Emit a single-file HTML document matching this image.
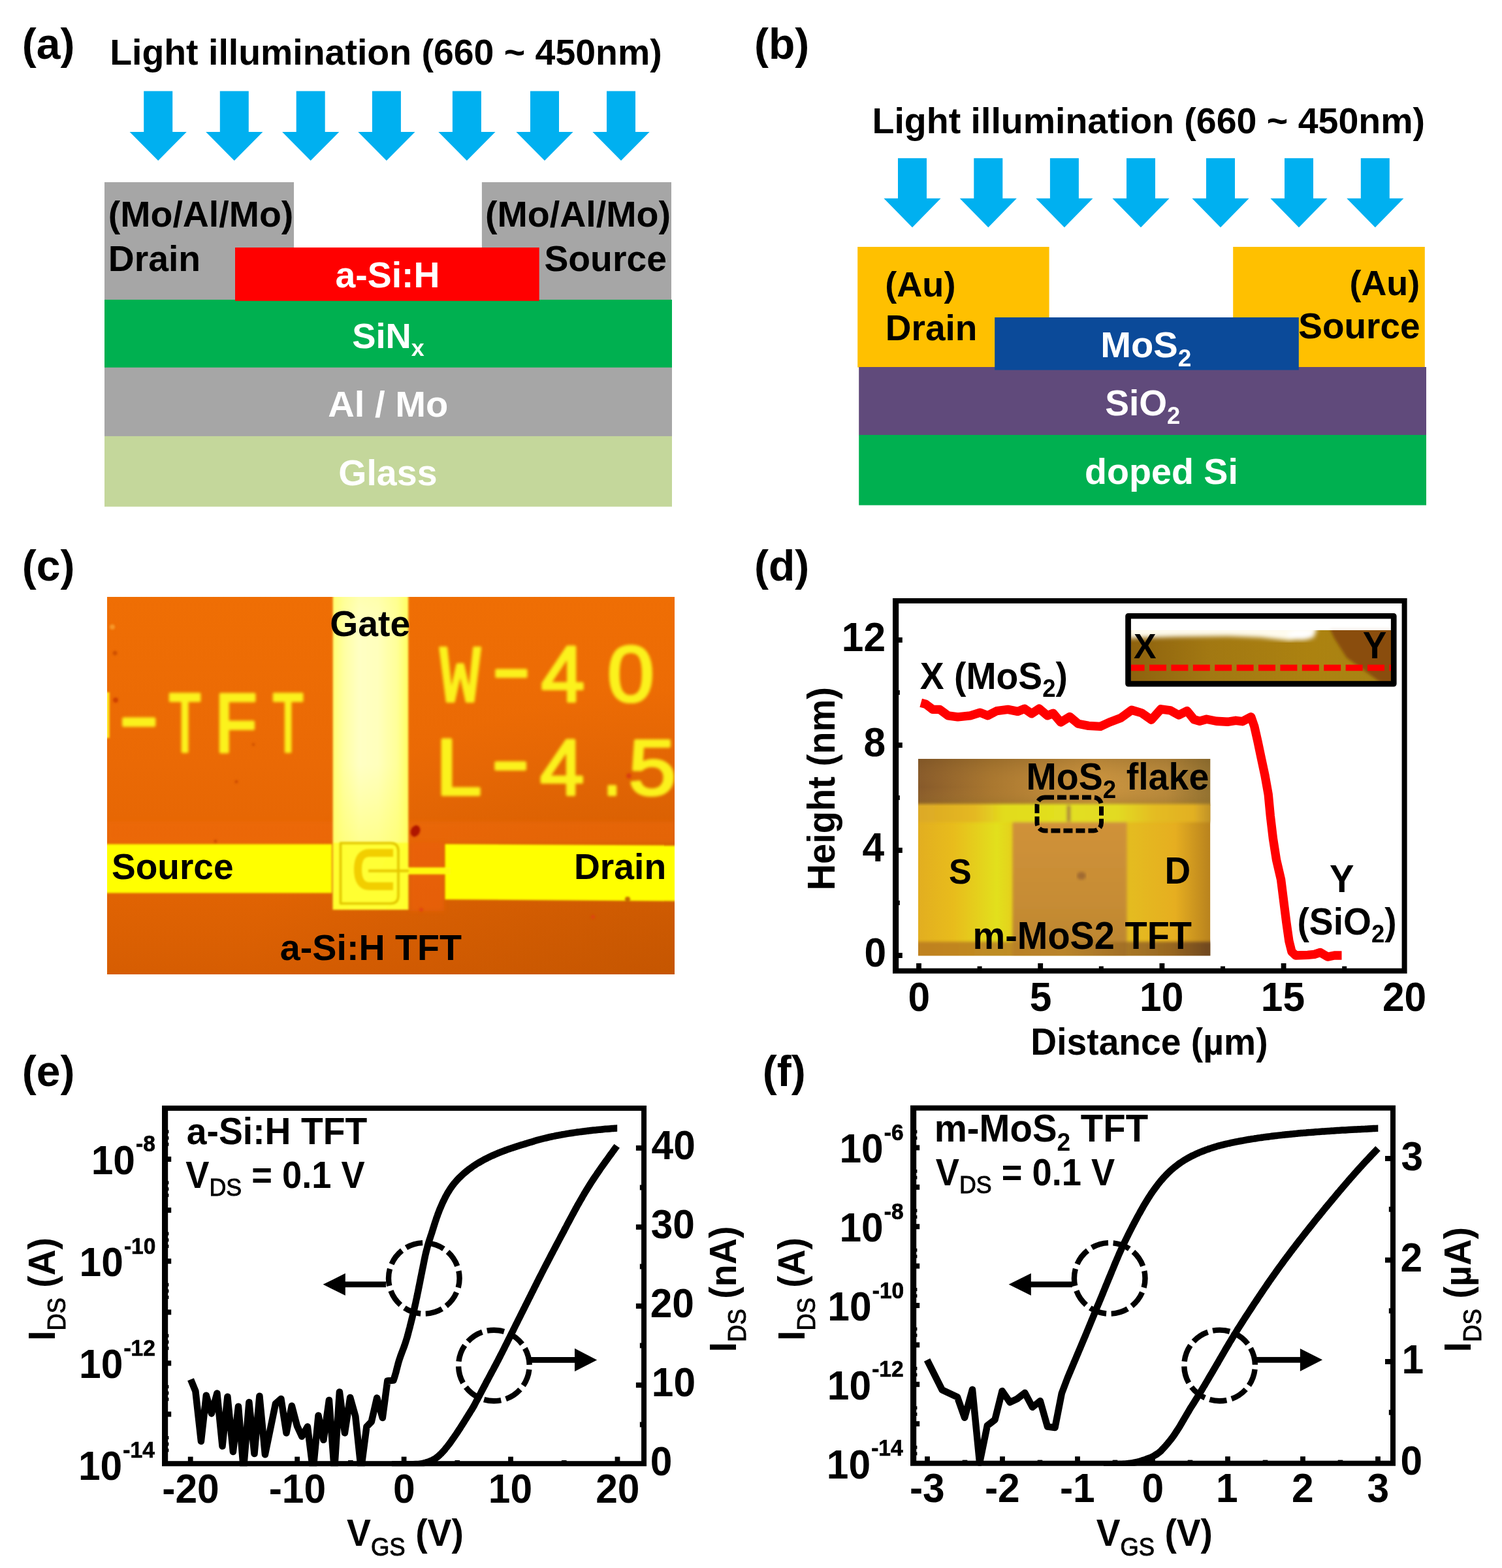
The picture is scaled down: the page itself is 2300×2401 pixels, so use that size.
<!DOCTYPE html>
<html lang="en">
<head>
<meta charset="utf-8">
<title>Figure: a-Si:H TFT and m-MoS2 TFT</title>
<style>
html,body{margin:0;padding:0;background:#fff;width:2300px;height:2401px;overflow:hidden;}
svg{display:block;}
text{font-family:"Liberation Sans", Arial, Helvetica, sans-serif;font-weight:bold;white-space:pre;}
</style>
</head>
<body>
<svg width="2300" height="2401" viewBox="0 0 2300 2401">
<rect x="0" y="0" width="2300" height="2401" fill="#fff"/>
<text x="33.71" y="90.30" font-size="66.00" fill="#000" >(a)</text>
<text x="1154.91" y="90.30" font-size="66.00" fill="#000" >(b)</text>
<text x="33.71" y="889.30" font-size="66.00" fill="#000" >(c)</text>
<text x="1154.91" y="889.30" font-size="66.00" fill="#000" >(d)</text>
<text x="33.71" y="1663.00" font-size="66.00" fill="#000" >(e)</text>
<text x="1167.71" y="1663.00" font-size="66.00" fill="#000" >(f)</text>
<g id="panel-a">
<text x="168.14" y="99.00" font-size="55.44" fill="#000" >Light illumination (660 ~ 450nm)</text>
<polygon points="220.2,139.6 264.2,139.6 264.2,202.0 285.8,202.0 242.2,246.0 198.6,202.0 220.2,202.0" fill="#00B0F0"/>
<polygon points="336.8,139.6 380.8,139.6 380.8,202.0 402.4,202.0 358.8,246.0 315.2,202.0 336.8,202.0" fill="#00B0F0"/>
<polygon points="453.7,139.6 497.7,139.6 497.7,202.0 519.3,202.0 475.7,246.0 432.1,202.0 453.7,202.0" fill="#00B0F0"/>
<polygon points="569.9,139.6 613.9,139.6 613.9,202.0 635.5,202.0 591.9,246.0 548.3,202.0 569.9,202.0" fill="#00B0F0"/>
<polygon points="692.9,139.6 736.9,139.6 736.9,202.0 758.5,202.0 714.9,246.0 671.3,202.0 692.9,202.0" fill="#00B0F0"/>
<polygon points="812.0,139.6 856.0,139.6 856.0,202.0 877.6,202.0 834.0,246.0 790.4,202.0 812.0,202.0" fill="#00B0F0"/>
<polygon points="929.0,139.6 973.0,139.6 973.0,202.0 994.6,202.0 951.0,246.0 907.4,202.0 929.0,202.0" fill="#00B0F0"/>
<rect x="160.00" y="279.00" width="290.00" height="180.50" fill="#A6A6A6" />
<rect x="737.90" y="279.00" width="290.10" height="180.50" fill="#A6A6A6" />
<rect x="160.00" y="458.90" width="869.00" height="104.10" fill="#00B050" />
<rect x="160.00" y="562.70" width="869.00" height="105.50" fill="#A6A6A6" />
<rect x="160.00" y="667.90" width="869.00" height="107.90" fill="#C4D79B" />
<rect x="360.00" y="379.00" width="465.70" height="81.80" fill="#FF0000" />
<text x="165.80" y="347.30" font-size="55.49" fill="#000" >(Mo/Al/Mo)</text>
<text x="165.84" y="414.50" font-size="55.29" fill="#000" >Drain</text>
<text x="742.89" y="347.30" font-size="55.61" fill="#000" >(Mo/Al/Mo)</text>
<text x="833.44" y="414.50" font-size="55.32" fill="#000" >Source</text>
<text x="513.54" y="439.70" font-size="55.35" fill="#fff" >a-Si:H</text>
<text x="539.15" y="533.40" font-size="54.38" fill="#fff"><tspan>SiN</tspan><tspan dy="11.96" font-size="35.89">x</tspan></text>
<text x="502.32" y="637.50" font-size="56.15" fill="#fff" >Al / Mo</text>
<text x="518.26" y="742.60" font-size="55.54" fill="#fff" >Glass</text>
</g>
<g id="panel-b">
<text x="1335.53" y="203.50" font-size="55.51" fill="#000" >Light illumination (660 ~ 450nm)</text>
<polygon points="1375.0,242.2 1419.0,242.2 1419.0,303.8 1440.6,303.8 1397.0,348.2 1353.4,303.8 1375.0,303.8" fill="#00B0F0"/>
<polygon points="1491.3,242.2 1535.3,242.2 1535.3,303.8 1556.9,303.8 1513.3,348.2 1469.7,303.8 1491.3,303.8" fill="#00B0F0"/>
<polygon points="1607.9,242.2 1651.9,242.2 1651.9,303.8 1673.5,303.8 1629.9,348.2 1586.3,303.8 1607.9,303.8" fill="#00B0F0"/>
<polygon points="1725.0,242.2 1769.0,242.2 1769.0,303.8 1790.6,303.8 1747.0,348.2 1703.4,303.8 1725.0,303.8" fill="#00B0F0"/>
<polygon points="1847.0,242.2 1891.0,242.2 1891.0,303.8 1912.6,303.8 1869.0,348.2 1825.4,303.8 1847.0,303.8" fill="#00B0F0"/>
<polygon points="1967.0,242.2 2011.0,242.2 2011.0,303.8 2032.6,303.8 1989.0,348.2 1945.4,303.8 1967.0,303.8" fill="#00B0F0"/>
<polygon points="2083.8,242.2 2127.8,242.2 2127.8,303.8 2149.4,303.8 2105.8,348.2 2062.2,303.8 2083.8,303.8" fill="#00B0F0"/>
<rect x="1313.20" y="378.00" width="293.40" height="184.50" fill="#FFC000" />
<rect x="1888.20" y="378.00" width="293.60" height="184.50" fill="#FFC000" />
<rect x="1315.20" y="562.00" width="868.80" height="104.30" fill="#604A7B" />
<rect x="1315.20" y="666.00" width="868.80" height="107.60" fill="#00B050" />
<rect x="1523.20" y="486.00" width="465.60" height="80.60" fill="#0B4A99" />
<text x="1355.16" y="453.50" font-size="54.17" fill="#000" >(Au)</text>
<text x="1355.86" y="520.60" font-size="55.00" fill="#000" >Drain</text>
<text x="2066.48" y="452.20" font-size="53.86" fill="#000" >(Au)</text>
<text x="1988.24" y="518.30" font-size="54.96" fill="#000" >Source</text>
<text x="1685.19" y="546.80" font-size="56.15" fill="#fff"><tspan>MoS</tspan><tspan dy="14.04" font-size="37.06">2</tspan></text>
<text x="1692.14" y="635.60" font-size="55.11" fill="#fff"><tspan>SiO</tspan><tspan dy="13.78" font-size="36.37">2</tspan></text>
<text x="1661.06" y="741.00" font-size="55.64" fill="#fff" >doped Si</text>
</g>
<g id="panel-c">
<defs>
<linearGradient id="cbg" x1="0" x2="0" y1="0" y2="1"><stop offset="0" stop-color="#EF6E04"/><stop offset="0.45" stop-color="#EA6905"/><stop offset="0.72" stop-color="#E46503"/><stop offset="1" stop-color="#D65D02"/></linearGradient>
<radialGradient id="cshade" cx="1.0" cy="1.0" r="0.75"><stop offset="0" stop-color="#B85000" stop-opacity="0.55"/><stop offset="1" stop-color="#B85000" stop-opacity="0"/></radialGradient>
<linearGradient id="cgate" x1="0" x2="1" y1="0" y2="0"><stop offset="0" stop-color="#FFFF70"/><stop offset="0.14" stop-color="#FFFFA0"/><stop offset="0.35" stop-color="#FFFFC4"/><stop offset="0.6" stop-color="#FFFFBC"/><stop offset="0.85" stop-color="#FFFF98"/><stop offset="1" stop-color="#FFFF60"/></linearGradient>
<linearGradient id="cgatev" x1="0" x2="0" y1="0" y2="1"><stop offset="0" stop-color="#FFFF66" stop-opacity="0.25"/><stop offset="0.12" stop-color="#FFFF66" stop-opacity="0"/><stop offset="0.55" stop-color="#FFFF66" stop-opacity="0"/><stop offset="0.8" stop-color="#FFFF62" stop-opacity="0.55"/><stop offset="1" stop-color="#FFFF50" stop-opacity="0.7"/></linearGradient>
<filter id="cblur" x="-5%" y="-10%" width="110%" height="120%"><feGaussianBlur stdDeviation="1.6"/></filter>
<filter id="cblur2" x="-5%" y="-10%" width="110%" height="120%"><feGaussianBlur stdDeviation="2.2"/></filter>
<filter id="cblur3" x="-20%" y="-20%" width="140%" height="140%"><feGaussianBlur stdDeviation="3"/></filter>
<clipPath id="clip-c"><rect x="164.0" y="914.0" width="869.0" height="578.0"/></clipPath>
</defs>
<g clip-path="url(#clip-c)">
<rect x="164.00" y="914.00" width="869.00" height="578.00" fill="url(#cbg)" />
<rect x="164.00" y="914.00" width="869.00" height="578.00" fill="url(#cshade)" />
<rect x="164.00" y="1258.00" width="869.00" height="32.00" fill="#F36A08" opacity="0.45" filter="url(#cblur3)"/>
<rect x="628.00" y="1290.00" width="52.00" height="105.00" fill="#F0600A" opacity="0.6" filter="url(#cblur3)"/>
<g filter="url(#cblur)">
<rect x="150.00" y="1292.60" width="358.00" height="74.80" fill="#FFFF00" />
<polygon points="681.5,1292.6 1045,1294.6 1045,1379.8 681.5,1377.2" fill="#FFFF00"/>
<rect x="620.00" y="1328.20" width="70.00" height="10.60" fill="#FFFA10" />
<rect x="509.80" y="900.00" width="115.40" height="493.00" fill="url(#cgate)" />
<rect x="509.80" y="900.00" width="115.40" height="493.00" fill="url(#cgatev)" />
<rect x="509.80" y="1290.00" width="115.40" height="103.00" fill="#FFFF20" opacity="0.8"/>
<rect x="158.00" y="1060.00" width="9.60" height="70.00" fill="#FFE820" />
</g>
<g fill="none" stroke="#EFCF00" stroke-linejoin="round" filter="url(#cblur)">
<path d="M521.5,1291 H598 Q610,1291 610,1303 V1371 Q610,1383.5 598,1383.5 H521.5 Z" stroke-width="3.6" stroke="#E2C600"/>
<path d="M602,1306 H566 Q548,1306 548,1331 Q548,1357 566,1357 H602" stroke-width="12" stroke="#F2CE00"/>
<path d="M564,1333.4 H626" stroke-width="4" stroke="#E6C800"/>
</g>
<g filter="url(#cblur)">
<ellipse cx="636" cy="1272.5" rx="7" ry="9" fill="#B01404" transform="rotate(25 636 1272.5)"/>
<circle cx="177" cy="1072" r="4" fill="#C83808" opacity="0.8"/>
<circle cx="176" cy="1000" r="3.5" fill="#C84A08" opacity="0.8"/>
<circle cx="172" cy="960" r="4" fill="#F8A030" opacity="0.8"/>
<circle cx="362" cy="1197" r="2.5" fill="#C84808" opacity="0.8"/>
<circle cx="330" cy="1288" r="2.5" fill="#C84808" opacity="0.8"/>
<circle cx="963" cy="1188" r="4" fill="#D83810" opacity="0.8"/>
<circle cx="961" cy="1377" r="4" fill="#B84808" opacity="0.8"/>
<circle cx="388" cy="1140" r="2.5" fill="#D05008" opacity="0.8"/>
<circle cx="645" cy="1393" r="3" fill="#E04010" opacity="0.8"/>
<circle cx="908" cy="1404" r="3" fill="#E04010" opacity="0.8"/>
</g>
<text y="1150.7" fill="#FBF21C" stroke="#FBF21C" stroke-width="4.2" stroke-linejoin="round" style="font-weight:normal" filter="url(#cblur2)"><tspan x="162.2" y="1140.7" textLength="100.9" lengthAdjust="spacingAndGlyphs" font-family="'Liberation Mono', monospace" font-size="134.0">-</tspan><tspan x="257.0" y="1150.7" textLength="52.3" lengthAdjust="spacingAndGlyphs" font-family="'Liberation Mono', monospace" font-size="134.0">T</tspan><tspan x="326.5" y="1150.7" textLength="71.5" lengthAdjust="spacingAndGlyphs" font-family="'Liberation Mono', monospace" font-size="134.0">F</tspan><tspan x="415.9" y="1150.7" textLength="50.3" lengthAdjust="spacingAndGlyphs" font-family="'Liberation Mono', monospace" font-size="134.0">T</tspan></text>
<text y="1073.5" fill="#FBF21C" stroke="#FBF21C" stroke-width="4.2" stroke-linejoin="round" style="font-weight:normal" filter="url(#cblur2)"><tspan x="674.0" y="1073.5" textLength="61.4" lengthAdjust="spacingAndGlyphs" font-family="'Liberation Mono', monospace" font-size="124.0">W</tspan><tspan x="735.0" y="1064.2" textLength="96.0" lengthAdjust="spacingAndGlyphs" font-family="'Liberation Mono', monospace" font-size="124.0">-</tspan><tspan x="828.8" y="1073.5" textLength="66.4" lengthAdjust="spacingAndGlyphs" font-family="'Liberation Sans', monospace" font-size="120.0">4</tspan><tspan x="929.9" y="1073.5" textLength="71.7" lengthAdjust="spacingAndGlyphs" font-family="'Liberation Sans', monospace" font-size="120.0">0</tspan></text>
<text y="1217.0" fill="#FBF21C" stroke="#FBF21C" stroke-width="4.2" stroke-linejoin="round" style="font-weight:normal" filter="url(#cblur2)"><tspan x="662.5" y="1217.0" textLength="79.3" lengthAdjust="spacingAndGlyphs" font-family="'Liberation Mono', monospace" font-size="128.0">L</tspan><tspan x="734.0" y="1207.4" textLength="95.4" lengthAdjust="spacingAndGlyphs" font-family="'Liberation Mono', monospace" font-size="128.0">-</tspan><tspan x="827.1" y="1217.0" textLength="67.4" lengthAdjust="spacingAndGlyphs" font-family="'Liberation Sans', monospace" font-size="120.0">4</tspan><tspan x="922.8" y="1217.0" textLength="29.2" lengthAdjust="spacingAndGlyphs" font-family="'Liberation Sans', monospace" font-size="120.0">.</tspan><tspan x="962.4" y="1217.0" textLength="72.9" lengthAdjust="spacingAndGlyphs" font-family="'Liberation Sans', monospace" font-size="120.0">5</tspan></text>
</g>
<text x="505.27" y="974.40" font-size="55.28" fill="#000" >Gate</text>
<text x="171.04" y="1345.50" font-size="55.02" fill="#000" >Source</text>
<text x="878.94" y="1346.00" font-size="55.29" fill="#000" >Drain</text>
<text x="428.83" y="1469.80" font-size="55.66" fill="#000" >a-Si:H TFT</text>
</g>
<g id="panel-d">
<defs>
<linearGradient id="d1top" x1="0" x2="1" y1="0" y2="0"><stop offset="0" stop-color="#86592A"/><stop offset="0.25" stop-color="#A9772F"/><stop offset="0.6" stop-color="#CC953F"/><stop offset="0.85" stop-color="#B98A3C"/><stop offset="1" stop-color="#8F7030"/></linearGradient>
<linearGradient id="d1topv" x1="0" x2="0" y1="0" y2="1"><stop offset="0" stop-color="#6b4a1c" stop-opacity="0.25"/><stop offset="0.6" stop-color="#c08840" stop-opacity="0"/><stop offset="1" stop-color="#8a6a20" stop-opacity="0.35"/></linearGradient>
<linearGradient id="d1yel" x1="0" x2="1" y1="0" y2="0"><stop offset="0" stop-color="#E2AE20"/><stop offset="0.12" stop-color="#E8BC1C"/><stop offset="0.27" stop-color="#E2E01C"/><stop offset="0.36" stop-color="#E6C61C"/><stop offset="0.72" stop-color="#E4BC20"/><stop offset="0.88" stop-color="#E6AE20"/><stop offset="1" stop-color="#B8821E"/></linearGradient>
<linearGradient id="d1band" x1="0" x2="1" y1="0" y2="0"><stop offset="0" stop-color="#DCA826"/><stop offset="0.2" stop-color="#E4B822"/><stop offset="0.3" stop-color="#E2DC1E"/><stop offset="0.5" stop-color="#E2E020"/><stop offset="0.68" stop-color="#E2DA20"/><stop offset="0.8" stop-color="#E4BC22"/><stop offset="0.93" stop-color="#E2B024"/><stop offset="1" stop-color="#B88A28"/></linearGradient>
<linearGradient id="d1sq" x1="0" x2="0" y1="0" y2="1"><stop offset="0" stop-color="#D0923A"/><stop offset="0.6" stop-color="#C68C34"/><stop offset="1" stop-color="#B98430"/></linearGradient>
<linearGradient id="d1bot" x1="0" x2="1" y1="0" y2="0"><stop offset="0" stop-color="#B9791E"/><stop offset="0.5" stop-color="#B8842A"/><stop offset="0.85" stop-color="#8A5A22"/><stop offset="1" stop-color="#5E3A1C"/></linearGradient>
<linearGradient id="d2base" x1="0" x2="1" y1="0" y2="0"><stop offset="0" stop-color="#8E620E"/><stop offset="0.3" stop-color="#A27812"/><stop offset="0.7" stop-color="#AC8210"/><stop offset="1" stop-color="#A88414"/></linearGradient>
<filter id="blur2" x="-5%" y="-20%" width="110%" height="140%"><feGaussianBlur stdDeviation="2"/></filter>
<filter id="blur4" x="-10%" y="-10%" width="120%" height="120%"><feGaussianBlur stdDeviation="3.5"/></filter>
<clipPath id="clip-d1"><rect x="1406" y="1162" width="447.4" height="301.4"/></clipPath>
<clipPath id="clip-d2"><rect x="1731.9" y="947.6" width="398.3" height="96"/></clipPath>
</defs>
<g clip-path="url(#clip-d1)">
<rect x="1406.00" y="1162.00" width="447.40" height="301.40" fill="url(#d1yel)" />
<rect x="1406.00" y="1162.00" width="447.40" height="72.00" fill="url(#d1top)" />
<rect x="1406.00" y="1162.00" width="447.40" height="72.00" fill="url(#d1topv)" />
<g filter="url(#blur2)">
<rect x="1400.00" y="1231.00" width="460.00" height="28.00" fill="url(#d1band)" />
<rect x="1550.50" y="1258.80" width="175.00" height="211.20" fill="url(#d1sq)" />
<rect x="1400.00" y="1442.00" width="460.00" height="28.00" fill="url(#d1bot)" opacity="0.85"/>
<rect x="1633.50" y="1233.00" width="6.00" height="25.00" fill="#B08A3A" />
</g>
<ellipse cx="1656" cy="1341" rx="7" ry="6" fill="#A06A30" filter="url(#blur2)"/>
</g>
<g clip-path="url(#clip-d2)">
<rect x="1731.90" y="947.60" width="398.30" height="17.60" fill="#fff" />
<rect x="1731.90" y="965.00" width="398.30" height="78.50" fill="url(#d2base)" />
<polygon points="2036,962 2135,962 2135,1045 2114,1045 2062,1007 2043,977" fill="#8A4E0A" filter="url(#blur2)"/>
<g filter="url(#blur4)">
<polygon points="1728,958 2018,958 2012,976 1975,981 1930,976 1880,974 1800,975 1728,977" fill="#FFFCEE"/>
<ellipse cx="1992" cy="972" rx="20" ry="8" fill="#fff"/>
</g>
</g>
<rect x="1731.90" y="947.60" width="398.30" height="17.40" fill="#fff" opacity="0.92"/>
<path d="M1726.6,1022.5 H2130.2" stroke="#FF0000" stroke-width="9.3" stroke-dasharray="26 7.4" fill="none" clip-path="url(#clip-d2)"/>
<rect x="1727.55" y="943.25" width="406.7" height="103.8" fill="none" stroke="#000" stroke-width="8.7" stroke-linejoin="round"/>
<text transform="translate(1736.00 1008.30) scale(1 1.045)" font-size="51.80" fill="#000" >X</text>
<text transform="translate(2086.64 1008.30) scale(1 1.045)" font-size="54.95" fill="#000" >Y</text>
<path d="M1410.2,1076.2 L1417.7,1078.3 L1428.3,1086.4 L1439.0,1086.4 L1451.8,1095.8 L1466.7,1097.9 L1485.8,1095.8 L1500.8,1091.1 L1512.5,1095.8 L1526.3,1088.6 L1543.4,1086.4 L1558.3,1089.4 L1568.9,1085.2 L1579.6,1092.8 L1591.3,1085.2 L1604.0,1095.8 L1612.6,1092.2 L1624.3,1106.0 L1638.1,1097.5 L1650.9,1108.2 L1666.9,1111.4 L1685.0,1112.4 L1698.8,1106.0 L1715.9,1099.6 L1732.9,1087.3 L1747.8,1091.6 L1763.2,1102.2 L1777.5,1085.8 L1792.2,1087.9 L1805.0,1095.0 L1817.8,1088.6 L1828.4,1101.8 L1837.0,1104.3 L1847.6,1101.3 L1862.5,1104.3 L1879.6,1105.3 L1892.2,1103.3 L1902.4,1104.7 L1915.7,1097.8 L1920.8,1112.4 L1925.9,1134.9 L1931.0,1159.4 L1937.1,1188.0 L1942.2,1216.5 L1945.3,1249.2 L1949.4,1283.9 L1954.5,1316.5 L1961.6,1347.1 L1965.7,1379.8 L1969.8,1412.4 L1973.9,1441.0 L1978.0,1457.3 L1984.1,1463.0 L2002.4,1462.4 L2012.7,1461.4 L2021.8,1458.4 L2033.0,1465.1 L2043.3,1463.0 L2054.5,1463.0" fill="none" stroke="#FF0000" stroke-width="13.4" stroke-linejoin="round"/>
<rect x="1371.00" y="920.00" width="5.20" height="566.70" fill="#000" />
<rect x="1371.00" y="920.00" width="779.60" height="566.70" fill="none" stroke="#000" stroke-width="8.0"/>
<rect x="1371.00" y="976.00" width="10.80" height="8.00" fill="#000" />
<rect x="1371.00" y="1137.00" width="10.80" height="8.00" fill="#000" />
<rect x="1371.00" y="1298.00" width="10.80" height="8.00" fill="#000" />
<rect x="1371.00" y="1459.00" width="10.80" height="8.00" fill="#000" />
<rect x="1371.00" y="1057.00" width="6.80" height="7.00" fill="#000" />
<rect x="1371.00" y="1218.00" width="6.80" height="7.00" fill="#000" />
<rect x="1371.00" y="1379.00" width="6.80" height="7.00" fill="#000" />
<rect x="1403.10" y="1475.00" width="7.80" height="11.70" fill="#000" />
<rect x="1589.30" y="1475.00" width="7.80" height="11.70" fill="#000" />
<rect x="1775.50" y="1475.00" width="7.80" height="11.70" fill="#000" />
<rect x="1961.70" y="1475.00" width="7.80" height="11.70" fill="#000" />
<rect x="1496.60" y="1479.60" width="7.00" height="7.10" fill="#000" />
<rect x="1682.80" y="1479.60" width="7.00" height="7.10" fill="#000" />
<rect x="1869.00" y="1479.60" width="7.00" height="7.10" fill="#000" />
<rect x="2055.20" y="1479.60" width="7.00" height="7.10" fill="#000" />
<text transform="translate(1288.81 997.40) scale(1 1.045)" font-size="60.50" fill="#000" >12</text>
<text transform="translate(1322.46 1158.40) scale(1 1.045)" font-size="60.50" fill="#000" >8</text>
<text transform="translate(1320.57 1319.40) scale(1 1.045)" font-size="60.50" fill="#000" >4</text>
<text transform="translate(1323.40 1480.40) scale(1 1.045)" font-size="60.50" fill="#000" >0</text>
<text transform="translate(1390.46 1547.80) scale(1 1.045)" font-size="60.50" fill="#000" >0</text>
<text transform="translate(1576.66 1547.80) scale(1 1.045)" font-size="60.50" fill="#000" >5</text>
<text transform="translate(1745.09 1547.80) scale(1 1.045)" font-size="60.50" fill="#000" >10</text>
<text transform="translate(1930.82 1547.80) scale(1 1.045)" font-size="60.50" fill="#000" >15</text>
<text transform="translate(2116.93 1547.80) scale(1 1.045)" font-size="60.50" fill="#000" >20</text>
<text transform="translate(1578.35 1614.80) scale(1 1.045)" font-size="55.22" fill="#000" >Distance (µm)</text>
<text transform="translate(1277.80 1360.00) rotate(-90) scale(1 1.045)" x="-3.51" y="0" font-size="56.08" fill="#000" >Height (nm)</text>
<text transform="translate(1408.80 1054.80) scale(1 1.045)" font-size="55.32" fill="#000"><tspan>X (MoS</tspan><tspan dy="11.62" font-size="36.51">2</tspan><tspan dy="-11.62">)</tspan></text>
<text transform="translate(2036.12 1365.80) scale(1 1.045)" font-size="56.20" fill="#000" >Y</text>
<text transform="translate(1986.41 1431.00) scale(1 1.045)" font-size="55.26" fill="#000"><tspan>(SiO</tspan><tspan dy="11.61" font-size="36.47">2</tspan><tspan dy="-11.61">)</tspan></text>
<text transform="translate(1571.53 1208.80) scale(1 1.045)" font-size="55.58" fill="#000"><tspan>MoS</tspan><tspan dy="12.78" font-size="36.68">2</tspan><tspan dy="-12.78"> flake</tspan></text>
<rect x="1588.0" y="1221.0" width="98.5" height="51.0" rx="12" ry="12" fill="none" stroke="#000" stroke-width="7" stroke-dasharray="14 5"/>
<text transform="translate(1452.99 1352.50) scale(1 1.045)" font-size="52.00" fill="#000" >S</text>
<text transform="translate(1783.57 1353.00) scale(1 1.045)" font-size="54.88" fill="#000" >D</text>
<text transform="translate(1489.50 1452.50) scale(1 1.045)" font-size="55.93" fill="#000" >m-MoS2 TFT</text>
</g>
<g id="panel-e">
<clipPath id="clip-e"><rect x="252.0" y="1696.9" width="734.05" height="548.2999999999997"/></clipPath>
<g clip-path="url(#clip-e)" fill="none" stroke="#000" stroke-width="10.5" stroke-linejoin="round">
<path d="M292.0,2112.2 L299.4,2130.3 L307.9,2207.0 L315.8,2136.7 L323.9,2164.4 L332.4,2133.5 L340.5,2214.4 L348.4,2138.8 L356.9,2223.0 L365.0,2153.7 L372.9,2250.0 L381.4,2147.3 L389.5,2226.0 L397.4,2137.7 L405.9,2227.2 L421.9,2149.5 L430.4,2142.0 L438.5,2194.2 L446.8,2152.7 L454.9,2183.5 L462.3,2199.5 L470.9,2184.6 L479.4,2252.0 L487.5,2167.6 L495.4,2204.8 L503.9,2144.0 L512.0,2252.0 L519.9,2131.4 L527.9,2194.2 L536.2,2139.9 L544.3,2168.6 L552.9,2250.0 L561.4,2184.6 L568.8,2177.0 L577.2,2140.5 L585.8,2171.0 L593.3,2114.5 L602.5,2113.5 L602.5,2113.5 C602.7,2112.9 603.4,2111.0 603.8,2109.7 C604.2,2108.4 604.6,2107.1 605.0,2105.9 C605.3,2104.6 605.7,2103.3 606.1,2102.0 C606.4,2100.7 606.8,2099.4 607.1,2098.1 C607.4,2096.8 607.8,2095.5 608.1,2094.2 C608.4,2092.9 608.8,2091.6 609.1,2090.4 C609.4,2089.1 609.8,2087.8 610.1,2086.5 C610.5,2085.2 610.9,2083.9 611.3,2082.6 C611.7,2081.4 612.1,2080.1 612.6,2078.8 C613.0,2077.6 613.4,2076.3 613.9,2075.0 C614.4,2073.8 614.8,2072.5 615.3,2071.3 C615.8,2070.0 616.3,2068.8 616.7,2067.5 C617.2,2066.3 617.7,2065.0 618.1,2063.8 C618.6,2062.5 619.1,2061.2 619.5,2060.0 C619.9,2058.7 620.4,2057.4 620.8,2056.2 C621.2,2054.9 621.6,2053.6 622.0,2052.3 C622.4,2051.1 622.8,2049.8 623.2,2048.5 C623.6,2047.2 623.9,2045.9 624.3,2044.6 C624.6,2043.3 625.0,2042.0 625.3,2040.7 C625.7,2039.5 626.0,2038.2 626.3,2036.9 C626.7,2035.6 627.0,2034.3 627.4,2033.0 C627.7,2031.7 628.0,2030.4 628.3,2029.1 C628.7,2027.8 629.0,2026.5 629.3,2025.2 C629.7,2023.9 630.0,2022.6 630.3,2021.3 C630.6,2020.0 630.9,2018.7 631.3,2017.4 C631.6,2016.0 631.9,2014.7 632.2,2013.4 C632.5,2012.1 632.8,2010.8 633.1,2009.5 C633.4,2008.2 633.8,2006.9 634.1,2005.6 C634.4,2004.3 634.6,2003.0 634.9,2001.7 C635.2,2000.4 635.5,1999.1 635.8,1997.8 C636.1,1996.5 636.4,1995.1 636.7,1993.8 C637.0,1992.5 637.2,1991.2 637.5,1989.9 C637.8,1988.6 638.1,1987.3 638.4,1986.0 C638.6,1984.7 638.9,1983.3 639.2,1982.0 C639.4,1980.7 639.7,1979.4 640.0,1978.1 C640.3,1976.8 640.5,1975.5 640.8,1974.1 C641.0,1972.8 641.3,1971.5 641.6,1970.2 C641.8,1968.9 642.1,1967.6 642.4,1966.3 C642.6,1964.9 642.9,1963.6 643.2,1962.3 C643.4,1961.0 643.7,1959.7 643.9,1958.4 C644.2,1957.1 644.5,1955.7 644.7,1954.4 C645.0,1953.1 645.3,1951.8 645.5,1950.5 C645.8,1949.2 646.1,1947.8 646.3,1946.5 C646.6,1945.2 646.8,1943.9 647.1,1942.6 C647.4,1941.3 647.6,1940.0 647.9,1938.6 C648.2,1937.3 648.4,1936.0 648.7,1934.7 C648.9,1933.4 649.2,1932.1 649.5,1930.8 C649.7,1929.4 650.0,1928.1 650.3,1926.8 C650.6,1925.5 650.8,1924.2 651.1,1922.9 C651.4,1921.6 651.7,1920.3 652.0,1919.0 C652.3,1917.7 652.6,1916.4 653.0,1915.1 C653.3,1913.8 653.6,1912.5 654.0,1911.2 C654.3,1909.9 654.7,1908.6 655.0,1907.3 C655.4,1906.0 655.8,1904.7 656.1,1903.4 C656.5,1902.1 656.9,1900.9 657.3,1899.6 C657.7,1898.3 658.1,1897.0 658.6,1895.8 C659.0,1894.5 659.4,1893.2 659.8,1891.9 C660.2,1890.7 660.7,1889.4 661.1,1888.1 C661.5,1886.8 661.9,1885.6 662.3,1884.3 C662.7,1883.0 663.1,1881.7 663.5,1880.5 C663.9,1879.2 664.3,1877.9 664.7,1876.6 C665.1,1875.3 665.5,1874.1 665.9,1872.8 C666.3,1871.5 666.7,1870.2 667.2,1869.0 C667.6,1867.7 668.0,1866.4 668.4,1865.1 C668.9,1863.9 669.3,1862.6 669.8,1861.4 C670.2,1860.1 670.7,1858.8 671.2,1857.6 C671.7,1856.3 672.1,1855.1 672.6,1853.8 C673.1,1852.6 673.6,1851.3 674.1,1850.1 C674.7,1848.9 675.2,1847.6 675.7,1846.4 C676.2,1845.2 676.8,1843.9 677.3,1842.7 C677.9,1841.5 678.4,1840.3 679.0,1839.1 C679.6,1837.9 680.2,1836.7 680.8,1835.5 C681.4,1834.3 682.0,1833.1 682.6,1831.9 C683.2,1830.7 683.9,1829.5 684.5,1828.4 C685.2,1827.2 685.9,1826.0 686.6,1824.9 C687.3,1823.8 688.0,1822.6 688.7,1821.5 C689.4,1820.4 690.2,1819.3 691.0,1818.2 C691.7,1817.1 692.5,1816.0 693.3,1814.9 C694.1,1813.9 694.9,1812.8 695.8,1811.8 C696.6,1810.8 697.5,1809.7 698.4,1808.7 C699.3,1807.7 700.2,1806.7 701.1,1805.8 C702.0,1804.8 702.9,1803.8 703.9,1802.9 C704.8,1801.9 705.8,1801.0 706.8,1800.1 C707.7,1799.2 708.7,1798.3 709.7,1797.4 C710.7,1796.5 711.7,1795.6 712.8,1794.8 C713.8,1793.9 714.8,1793.1 715.9,1792.2 C716.9,1791.4 718.0,1790.6 719.1,1789.8 C720.1,1789.0 721.2,1788.2 722.3,1787.4 C723.4,1786.6 724.5,1785.9 725.6,1785.1 C726.7,1784.4 727.8,1783.7 729.0,1782.9 C730.1,1782.2 731.2,1781.5 732.4,1780.8 C733.5,1780.1 734.7,1779.4 735.8,1778.8 C737.0,1778.1 738.2,1777.5 739.4,1776.8 C740.5,1776.2 741.7,1775.6 742.9,1774.9 C744.1,1774.3 745.3,1773.7 746.5,1773.1 C747.7,1772.5 748.9,1771.9 750.1,1771.4 C751.3,1770.8 752.5,1770.2 753.7,1769.7 C755.0,1769.1 756.2,1768.6 757.4,1768.0 C758.6,1767.5 759.9,1767.0 761.1,1766.4 C762.3,1765.9 763.6,1765.4 764.8,1764.9 C766.1,1764.4 767.3,1763.9 768.6,1763.4 C769.8,1762.9 771.1,1762.5 772.3,1762.0 C773.6,1761.5 774.8,1761.1 776.1,1760.6 C777.4,1760.1 778.6,1759.7 779.9,1759.3 C781.2,1758.8 782.4,1758.4 783.7,1758.0 C785.0,1757.6 786.2,1757.1 787.5,1756.7 C788.8,1756.3 790.1,1755.9 791.3,1755.5 C792.6,1755.1 793.9,1754.7 795.2,1754.3 C796.5,1753.9 797.8,1753.5 799.0,1753.1 C800.3,1752.7 801.6,1752.3 802.9,1751.9 C804.2,1751.5 805.4,1751.2 806.7,1750.8 C808.0,1750.4 809.3,1750.0 810.6,1749.6 C811.9,1749.2 813.1,1748.8 814.4,1748.4 C815.7,1748.0 817.0,1747.6 818.3,1747.2 C819.6,1746.9 820.8,1746.5 822.1,1746.1 C823.4,1745.7 824.7,1745.4 826.0,1745.0 C827.3,1744.7 828.6,1744.3 829.9,1744.0 C831.2,1743.7 832.5,1743.3 833.8,1743.0 C835.1,1742.7 836.4,1742.4 837.7,1742.1 C839.0,1741.8 840.3,1741.5 841.6,1741.2 C842.9,1740.9 844.2,1740.6 845.5,1740.3 C846.9,1740.1 848.2,1739.8 849.5,1739.5 C850.8,1739.3 852.1,1739.0 853.4,1738.7 C854.7,1738.5 856.1,1738.2 857.4,1738.0 C858.7,1737.8 860.0,1737.5 861.3,1737.3 C862.7,1737.1 864.0,1736.8 865.3,1736.6 C866.6,1736.4 867.9,1736.2 869.3,1735.9 C870.6,1735.7 871.9,1735.5 873.2,1735.3 C874.6,1735.1 875.9,1734.9 877.2,1734.7 C878.5,1734.5 879.9,1734.3 881.2,1734.1 C882.5,1733.9 883.9,1733.7 885.2,1733.5 C886.5,1733.4 887.8,1733.2 889.2,1733.0 C890.5,1732.8 891.8,1732.7 893.2,1732.5 C894.5,1732.3 895.8,1732.2 897.1,1732.0 C898.5,1731.8 899.8,1731.7 901.1,1731.5 C902.5,1731.3 903.8,1731.2 905.1,1731.0 C906.5,1730.9 907.8,1730.7 909.1,1730.6 C910.5,1730.4 911.8,1730.3 913.1,1730.2 C914.5,1730.0 915.8,1729.9 917.1,1729.8 C918.5,1729.6 919.8,1729.5 921.1,1729.4 C922.5,1729.3 923.8,1729.1 925.1,1729.0 C926.5,1728.9 927.8,1728.8 929.2,1728.7 C930.5,1728.6 931.8,1728.5 933.2,1728.4 C934.5,1728.3 935.8,1728.2 937.2,1728.1 C938.5,1728.0 939.9,1727.9 941.2,1727.8 C942.5,1727.7 944.5,1727.5 945.2,1727.5"/>
<path d="M600.0,2242.2 C600.7,2242.2 602.7,2242.2 604.1,2242.2 C605.4,2242.2 606.8,2242.2 608.1,2242.2 C609.5,2242.2 610.8,2242.2 612.2,2242.2 C613.5,2242.2 614.9,2242.2 616.2,2242.2 C617.6,2242.2 619.0,2242.2 620.3,2242.2 C621.7,2242.2 623.0,2242.2 624.4,2242.2 C625.7,2242.2 627.1,2242.2 628.4,2242.2 C629.8,2242.2 631.1,2242.2 632.5,2242.2 C633.8,2242.1 635.2,2242.1 636.6,2242.1 C637.9,2242.1 639.3,2242.0 640.6,2241.9 C641.9,2241.8 643.3,2241.6 644.6,2241.4 C645.9,2241.2 647.2,2240.9 648.6,2240.6 C649.9,2240.2 651.2,2239.9 652.5,2239.5 C653.8,2239.1 655.1,2238.8 656.3,2238.3 C657.6,2237.8 658.9,2237.4 660.1,2236.8 C661.3,2236.3 662.6,2235.7 663.7,2235.0 C664.9,2234.4 666.1,2233.7 667.2,2232.9 C668.3,2232.1 669.3,2231.3 670.4,2230.5 C671.4,2229.6 672.4,2228.7 673.4,2227.8 C674.4,2226.8 675.4,2225.9 676.3,2224.9 C677.2,2224.0 678.2,2223.0 679.0,2222.0 C679.9,2220.9 680.8,2219.9 681.7,2218.9 C682.5,2217.8 683.4,2216.8 684.3,2215.7 C685.1,2214.7 685.9,2213.6 686.8,2212.5 C687.6,2211.5 688.4,2210.4 689.2,2209.3 C690.0,2208.2 690.8,2207.1 691.6,2206.0 C692.3,2204.9 693.1,2203.8 693.9,2202.7 C694.7,2201.6 695.5,2200.4 696.2,2199.3 C697.0,2198.2 697.8,2197.1 698.5,2196.0 C699.3,2194.9 700.0,2193.7 700.8,2192.6 C701.5,2191.5 702.3,2190.3 703.0,2189.2 C703.8,2188.1 704.5,2187.0 705.2,2185.8 C706.0,2184.7 706.7,2183.5 707.4,2182.4 C708.2,2181.2 708.9,2180.1 709.6,2178.9 C710.3,2177.8 711.0,2176.6 711.7,2175.5 C712.5,2174.4 713.2,2173.2 713.9,2172.1 C714.6,2170.9 715.3,2169.8 716.0,2168.6 C716.7,2167.5 717.5,2166.3 718.2,2165.2 C718.9,2164.0 719.6,2162.9 720.3,2161.7 C721.0,2160.6 721.7,2159.4 722.5,2158.3 C723.2,2157.1 723.8,2156.1 724.6,2154.8 C725.4,2153.5 726.2,2151.9 727.0,2150.4 C727.8,2148.9 728.6,2147.4 729.3,2145.9 C730.1,2144.5 730.9,2143.0 731.7,2141.5 C732.5,2140.0 733.2,2138.5 734.0,2137.1 C734.8,2135.6 735.6,2134.1 736.4,2132.6 C737.1,2131.1 737.9,2129.6 738.7,2128.2 C739.5,2126.7 740.2,2125.2 741.0,2123.7 C741.8,2122.2 742.6,2120.7 743.4,2119.3 C744.1,2117.8 744.9,2116.3 745.7,2114.8 C746.5,2113.3 747.3,2111.9 748.1,2110.4 C748.9,2108.9 749.6,2107.4 750.4,2106.0 C751.2,2104.5 752.0,2103.0 752.8,2101.5 C753.6,2100.0 754.4,2098.6 755.2,2097.1 C756.0,2095.6 756.7,2094.1 757.5,2092.7 C758.3,2091.2 759.1,2089.7 759.9,2088.2 C760.6,2086.7 761.4,2085.2 762.2,2083.8 C763.0,2082.3 763.7,2080.8 764.5,2079.3 C765.3,2077.8 766.0,2076.3 766.8,2074.8 C767.6,2073.3 768.3,2071.9 769.1,2070.4 C769.8,2068.9 770.6,2067.4 771.4,2065.9 C772.1,2064.4 772.9,2062.9 773.6,2061.4 C774.4,2059.9 775.1,2058.4 775.9,2056.9 C776.6,2055.4 777.4,2053.9 778.1,2052.4 C778.9,2050.9 779.6,2049.4 780.4,2047.9 C781.1,2046.4 781.9,2044.9 782.6,2043.4 C783.4,2041.9 784.1,2040.4 784.9,2038.9 C785.6,2037.4 786.4,2035.9 787.1,2034.4 C787.9,2032.9 788.6,2031.4 789.3,2029.9 C790.1,2028.4 790.8,2026.9 791.6,2025.4 C792.3,2023.9 793.1,2022.4 793.8,2020.9 C794.6,2019.4 795.3,2017.9 796.1,2016.4 C796.8,2014.9 797.6,2013.4 798.3,2011.9 C799.1,2010.4 799.8,2008.9 800.6,2007.4 C801.3,2005.9 802.0,2004.5 802.8,2003.0 C803.5,2001.5 804.3,2000.0 805.0,1998.5 C805.8,1997.0 806.5,1995.5 807.3,1994.0 C808.0,1992.5 808.8,1991.0 809.5,1989.5 C810.3,1988.0 811.0,1986.5 811.8,1985.0 C812.5,1983.5 813.3,1982.0 814.0,1980.5 C814.8,1979.0 815.5,1977.5 816.3,1976.0 C817.0,1974.5 817.8,1973.0 818.5,1971.5 C819.3,1970.0 820.0,1968.5 820.8,1967.0 C821.5,1965.5 822.3,1964.0 823.0,1962.5 C823.8,1961.0 824.5,1959.5 825.3,1958.0 C826.0,1956.5 826.8,1955.0 827.6,1953.5 C828.3,1952.1 829.1,1950.6 829.8,1949.1 C830.6,1947.6 831.4,1946.1 832.1,1944.6 C832.9,1943.1 833.7,1941.6 834.4,1940.1 C835.2,1938.6 836.0,1937.2 836.7,1935.7 C837.5,1934.2 838.3,1932.7 839.1,1931.2 C839.8,1929.7 840.6,1928.2 841.4,1926.8 C842.2,1925.3 843.0,1923.8 843.7,1922.3 C844.5,1920.8 845.3,1919.3 846.1,1917.9 C846.8,1916.4 847.6,1914.9 848.4,1913.4 C849.2,1911.9 850.0,1910.5 850.7,1909.0 C851.5,1907.5 852.3,1906.0 853.1,1904.5 C853.9,1903.0 854.7,1901.6 855.4,1900.1 C856.2,1898.6 857.0,1897.1 857.8,1895.6 C858.6,1894.2 859.3,1892.7 860.1,1891.2 C860.9,1889.7 861.7,1888.2 862.5,1886.8 C863.3,1885.3 864.0,1883.8 864.8,1882.3 C865.6,1880.8 866.4,1879.4 867.2,1877.9 C867.9,1876.4 868.7,1874.9 869.5,1873.4 C870.3,1872.0 871.1,1870.5 871.9,1869.0 C872.7,1867.5 873.5,1866.0 874.2,1864.6 C875.0,1863.1 875.8,1861.6 876.6,1860.1 C877.4,1858.7 878.2,1857.2 879.0,1855.7 C879.8,1854.2 880.6,1852.8 881.4,1851.3 C882.2,1849.8 883.0,1848.4 883.8,1846.9 C884.6,1845.4 885.5,1844.0 886.3,1842.5 C887.1,1841.1 887.9,1839.6 888.8,1838.1 C889.6,1836.7 890.4,1835.2 891.3,1833.8 C892.1,1832.3 892.9,1830.9 893.8,1829.5 C894.6,1828.0 895.5,1826.6 896.4,1825.1 C897.2,1823.7 898.1,1822.3 899.0,1820.9 C899.8,1819.4 900.7,1818.0 901.6,1816.6 C902.5,1815.2 903.4,1813.8 904.3,1812.3 C905.2,1810.9 906.1,1809.5 907.0,1808.1 C907.9,1806.7 908.8,1805.3 909.8,1803.9 C910.7,1802.5 911.6,1801.1 912.6,1799.7 C913.5,1798.4 914.4,1797.0 915.4,1795.6 C916.3,1794.2 917.3,1792.8 918.2,1791.5 C919.2,1790.1 920.1,1788.7 921.1,1787.3 C922.1,1786.0 923.0,1784.6 924.0,1783.2 C925.0,1781.9 925.9,1780.5 926.9,1779.1 C927.9,1777.8 928.9,1776.4 929.9,1775.1 C930.8,1773.7 931.8,1772.4 932.8,1771.0 C933.8,1769.6 934.8,1768.3 935.8,1766.9 C936.8,1765.6 937.7,1764.2 938.7,1762.9 C939.7,1761.5 940.7,1760.2 941.7,1758.8 C942.7,1757.5 944.2,1755.5 944.7,1754.8"/>
</g>
<rect x="252.00" y="1696.90" width="5.20" height="544.30" fill="#000" />
<rect x="252.00" y="1696.90" width="734.05" height="544.30" fill="none" stroke="#000" stroke-width="8.0"/>
<rect x="252.00" y="1771.00" width="10.20" height="8.00" fill="#000" />
<rect x="252.00" y="1849.10" width="10.20" height="8.00" fill="#000" />
<rect x="252.00" y="1927.20" width="10.20" height="8.00" fill="#000" />
<rect x="252.00" y="2005.30" width="10.20" height="8.00" fill="#000" />
<rect x="252.00" y="2083.40" width="10.20" height="8.00" fill="#000" />
<rect x="252.00" y="2161.50" width="10.20" height="8.00" fill="#000" />
<rect x="252.00" y="1730.40" width="6.40" height="5.00" fill="#000" />
<rect x="252.00" y="1740.10" width="6.40" height="5.00" fill="#000" />
<rect x="252.00" y="1749.70" width="6.40" height="5.00" fill="#000" />
<rect x="252.00" y="1808.50" width="6.40" height="5.00" fill="#000" />
<rect x="252.00" y="1818.20" width="6.40" height="5.00" fill="#000" />
<rect x="252.00" y="1827.80" width="6.40" height="5.00" fill="#000" />
<rect x="252.00" y="1886.60" width="6.40" height="5.00" fill="#000" />
<rect x="252.00" y="1896.30" width="6.40" height="5.00" fill="#000" />
<rect x="252.00" y="1905.90" width="6.40" height="5.00" fill="#000" />
<rect x="252.00" y="1964.70" width="6.40" height="5.00" fill="#000" />
<rect x="252.00" y="1974.40" width="6.40" height="5.00" fill="#000" />
<rect x="252.00" y="1984.00" width="6.40" height="5.00" fill="#000" />
<rect x="252.00" y="2042.80" width="6.40" height="5.00" fill="#000" />
<rect x="252.00" y="2052.50" width="6.40" height="5.00" fill="#000" />
<rect x="252.00" y="2062.10" width="6.40" height="5.00" fill="#000" />
<rect x="252.00" y="2120.90" width="6.40" height="5.00" fill="#000" />
<rect x="252.00" y="2130.60" width="6.40" height="5.00" fill="#000" />
<rect x="252.00" y="2140.20" width="6.40" height="5.00" fill="#000" />
<rect x="252.00" y="2199.00" width="6.40" height="5.00" fill="#000" />
<rect x="252.00" y="2208.70" width="6.40" height="5.00" fill="#000" />
<rect x="252.00" y="2218.30" width="6.40" height="5.00" fill="#000" />
<rect x="973.90" y="1753.90" width="12.15" height="8.00" fill="#000" />
<rect x="973.90" y="1874.90" width="12.15" height="8.00" fill="#000" />
<rect x="973.90" y="1995.90" width="12.15" height="8.00" fill="#000" />
<rect x="973.90" y="2116.90" width="12.15" height="8.00" fill="#000" />
<rect x="979.80" y="1814.40" width="6.25" height="8.00" fill="#000" />
<rect x="979.80" y="1935.40" width="6.25" height="8.00" fill="#000" />
<rect x="979.80" y="2056.40" width="6.25" height="8.00" fill="#000" />
<rect x="979.80" y="2177.40" width="6.25" height="8.00" fill="#000" />
<rect x="287.80" y="2230.60" width="7.80" height="10.60" fill="#000" />
<rect x="451.25" y="2230.60" width="7.80" height="10.60" fill="#000" />
<rect x="614.70" y="2230.60" width="7.80" height="10.60" fill="#000" />
<rect x="778.15" y="2230.60" width="7.80" height="10.60" fill="#000" />
<rect x="941.60" y="2230.60" width="7.80" height="10.60" fill="#000" />
<rect x="369.60" y="2236.00" width="7.60" height="5.20" fill="#000" />
<rect x="533.05" y="2236.00" width="7.60" height="5.20" fill="#000" />
<rect x="696.50" y="2236.00" width="7.60" height="5.20" fill="#000" />
<rect x="859.95" y="2236.00" width="7.60" height="5.20" fill="#000" />
<text transform="translate(139.65 1797.80) scale(1 1.045)" font-size="60.50" fill="#000" >10</text>
<text transform="translate(208.05 1763.40) scale(1 1.045)" font-size="33.50" fill="#000" stroke="#000" stroke-width="0.7">-8</text>
<text transform="translate(121.54 1954.00) scale(1 1.045)" font-size="60.50" fill="#000" >10</text>
<text transform="translate(189.94 1919.60) scale(1 1.045)" font-size="33.50" fill="#000" stroke="#000" stroke-width="0.7">-10</text>
<text transform="translate(121.02 2110.20) scale(1 1.045)" font-size="60.50" fill="#000" >10</text>
<text transform="translate(189.42 2075.80) scale(1 1.045)" font-size="33.50" fill="#000" stroke="#000" stroke-width="0.7">-12</text>
<text transform="translate(119.97 2266.40) scale(1 1.045)" font-size="60.50" fill="#000" >10</text>
<text transform="translate(188.37 2232.00) scale(1 1.045)" font-size="33.50" fill="#000" stroke="#000" stroke-width="0.7">-14</text>
<text transform="translate(997.60 1775.10) scale(1 1.045)" font-size="60.50" fill="#000" >40</text>
<text transform="translate(996.65 1896.10) scale(1 1.045)" font-size="60.50" fill="#000" >30</text>
<text transform="translate(995.71 2017.10) scale(1 1.045)" font-size="60.50" fill="#000" >20</text>
<text transform="translate(997.82 2138.10) scale(1 1.045)" font-size="60.50" fill="#000" >10</text>
<text transform="translate(995.71 2259.10) scale(1 1.045)" font-size="60.50" fill="#000" >0</text>
<text transform="translate(248.26 2301.30) scale(1 1.045)" font-size="60.50" fill="#000" >-20</text>
<text transform="translate(411.71 2301.30) scale(1 1.045)" font-size="60.50" fill="#000" >-10</text>
<text transform="translate(602.06 2301.30) scale(1 1.045)" font-size="60.50" fill="#000" >0</text>
<text transform="translate(747.74 2301.30) scale(1 1.045)" font-size="60.50" fill="#000" >10</text>
<text transform="translate(912.13 2301.30) scale(1 1.045)" font-size="60.50" fill="#000" >20</text>
<text transform="translate(531.00 2367.40) scale(1 1.045)" font-size="55.39" fill="#000"><tspan>V</tspan><tspan dy="14.40" font-size="36.56" font-weight="normal" stroke="#000" stroke-width="0.9">GS</tspan><tspan dy="-14.40"> (V)</tspan></text>
<text transform="translate(84.00 2049.50) rotate(-90) scale(1 1.045)" x="-3.45" y="0" font-size="55.21" fill="#000"><tspan>I</tspan><tspan dy="14.91" font-size="36.44" font-weight="normal" stroke="#000" stroke-width="0.9">DS</tspan><tspan dy="-14.91"> (A)</tspan></text>
<text transform="translate(1126.70 2067.00) rotate(-90) scale(1 1.045)" x="-3.47" y="0" font-size="55.56" fill="#000"><tspan>I</tspan><tspan dy="15.00" font-size="36.67" font-weight="normal" stroke="#000" stroke-width="0.9">DS</tspan><tspan dy="-15.00"> (nA)</tspan></text>
<text transform="translate(285.74 1751.80) scale(1 1.045)" font-size="55.33" fill="#000" >a-Si:H TFT</text>
<text transform="translate(284.30 1818.80) scale(1 1.045)" font-size="54.25" fill="#000"><tspan>V</tspan><tspan dy="11.94" font-size="35.81" font-weight="normal" stroke="#000" stroke-width="0.9">DS</tspan><tspan dy="-11.94"> = 0.1 V</tspan></text>
<circle cx="649.3" cy="1957.4" r="54.3" fill="none" stroke="#000" stroke-width="8.4" stroke-dasharray="26.4 7.72" stroke-dashoffset="12"/>
<circle cx="756.4" cy="2091.0" r="54.3" fill="none" stroke="#000" stroke-width="8.4" stroke-dasharray="26.4 7.72" stroke-dashoffset="-6"/>
<rect x="527.80" y="1962.40" width="63.20" height="8.80" fill="#000" />
<polygon points="494.6,1966.8 528.8,1949.8 528.8,1983.8" fill="#000"/>
<rect x="812.00" y="2078.00" width="69.00" height="8.80" fill="#000" />
<polygon points="914.2,2082.4 880.0,2064.8 880.0,2100.0" fill="#000"/>
</g>
<g id="panel-f">
<clipPath id="clip-f"><rect x="1398.0" y="1696.6" width="735.0" height="548.0999999999999"/></clipPath>
<g clip-path="url(#clip-f)" fill="none" stroke="#000" stroke-width="10.5" stroke-linejoin="round">
<path d="M1419.6,2082.4 L1442.6,2128.2 L1466.0,2139.2 L1477.1,2170.8 L1489.0,2127.7 L1500.1,2240.0 L1511.8,2183.0 L1523.5,2174.0 L1534.6,2129.9 L1546.5,2147.3 L1557.6,2142.0 L1569.3,2132.8 L1581.0,2154.8 L1592.8,2145.2 L1604.0,2184.6 L1615.5,2186.0 L1625.8,2133.5 L1625.8,2133.5 C1627.2,2129.8 1632.6,2115.5 1634.3,2111.0 C1636.0,2106.5 1635.6,2107.9 1636.2,2106.4 C1636.9,2104.8 1637.5,2103.3 1638.2,2101.7 C1638.8,2100.2 1639.5,2098.6 1640.1,2097.1 C1640.8,2095.5 1641.4,2094.0 1642.1,2092.5 C1642.7,2090.9 1643.4,2089.4 1644.0,2087.8 C1644.7,2086.3 1645.3,2084.8 1646.0,2083.2 C1646.6,2081.7 1647.3,2080.1 1647.9,2078.6 C1648.6,2077.0 1649.2,2075.5 1649.9,2074.0 C1650.5,2072.4 1651.2,2070.9 1651.8,2069.3 C1652.5,2067.8 1653.1,2066.2 1653.8,2064.7 C1654.4,2063.2 1655.1,2061.6 1655.7,2060.1 C1656.4,2058.5 1657.0,2057.0 1657.7,2055.4 C1658.3,2053.9 1659.0,2052.4 1659.6,2050.8 C1660.3,2049.3 1660.9,2047.7 1661.6,2046.2 C1662.2,2044.6 1662.9,2043.1 1663.5,2041.5 C1664.1,2040.0 1664.8,2038.4 1665.4,2036.9 C1666.1,2035.4 1666.7,2033.8 1667.3,2032.3 C1668.0,2030.7 1668.6,2029.2 1669.3,2027.6 C1669.9,2026.1 1670.5,2024.5 1671.2,2023.0 C1671.8,2021.4 1672.4,2019.9 1673.1,2018.3 C1673.7,2016.8 1674.4,2015.2 1675.0,2013.7 C1675.6,2012.1 1676.3,2010.6 1676.9,2009.0 C1677.6,2007.5 1678.2,2005.9 1678.8,2004.4 C1679.5,2002.8 1680.1,2001.3 1680.7,1999.7 C1681.4,1998.2 1682.0,1996.7 1682.7,1995.1 C1683.3,1993.6 1683.9,1992.0 1684.6,1990.5 C1685.2,1988.9 1685.8,1987.4 1686.5,1985.8 C1687.1,1984.3 1687.8,1982.7 1688.4,1981.2 C1689.0,1979.6 1689.7,1978.1 1690.3,1976.5 C1690.9,1975.0 1691.6,1973.4 1692.2,1971.9 C1692.9,1970.3 1693.5,1968.8 1694.1,1967.2 C1694.8,1965.7 1695.4,1964.1 1696.0,1962.6 C1696.7,1961.0 1697.3,1959.5 1697.9,1957.9 C1698.6,1956.4 1699.2,1954.8 1699.9,1953.3 C1700.5,1951.7 1701.1,1950.2 1701.8,1948.6 C1702.4,1947.1 1703.0,1945.6 1703.7,1944.0 C1704.3,1942.5 1705.0,1940.9 1705.6,1939.4 C1706.3,1937.8 1706.9,1936.3 1707.5,1934.7 C1708.2,1933.2 1708.8,1931.6 1709.5,1930.1 C1710.1,1928.6 1710.8,1927.0 1711.5,1925.5 C1712.1,1923.9 1712.8,1922.4 1713.4,1920.9 C1714.1,1919.3 1714.8,1917.8 1715.5,1916.3 C1716.2,1914.8 1716.8,1913.2 1717.5,1911.7 C1718.2,1910.2 1718.9,1908.7 1719.6,1907.1 C1720.3,1905.6 1721.1,1904.1 1721.8,1902.6 C1722.5,1901.1 1723.2,1899.6 1724.0,1898.1 C1724.7,1896.6 1725.4,1895.1 1726.2,1893.6 C1726.9,1892.1 1727.7,1890.6 1728.4,1889.1 C1729.2,1887.6 1729.9,1886.1 1730.7,1884.6 C1731.4,1883.1 1732.2,1881.6 1733.0,1880.1 C1733.7,1878.6 1734.5,1877.2 1735.3,1875.7 C1736.1,1874.2 1736.8,1872.7 1737.6,1871.2 C1738.4,1869.7 1739.2,1868.3 1740.0,1866.8 C1740.8,1865.3 1741.6,1863.8 1742.3,1862.4 C1743.1,1860.9 1743.9,1859.4 1744.8,1858.0 C1745.6,1856.5 1746.4,1855.0 1747.2,1853.6 C1748.0,1852.1 1748.8,1850.7 1749.7,1849.2 C1750.5,1847.7 1751.3,1846.3 1752.2,1844.9 C1753.0,1843.4 1753.9,1842.0 1754.8,1840.6 C1755.6,1839.1 1756.5,1837.7 1757.4,1836.3 C1758.3,1834.9 1759.2,1833.5 1760.1,1832.1 C1761.0,1830.7 1761.9,1829.3 1762.8,1827.9 C1763.8,1826.5 1764.7,1825.1 1765.7,1823.7 C1766.6,1822.4 1767.6,1821.0 1768.6,1819.7 C1769.6,1818.3 1770.6,1817.0 1771.6,1815.7 C1772.6,1814.3 1773.6,1813.0 1774.7,1811.7 C1775.7,1810.4 1776.8,1809.1 1777.8,1807.8 C1778.9,1806.6 1780.0,1805.3 1781.1,1804.1 C1782.2,1802.8 1783.3,1801.6 1784.5,1800.4 C1785.6,1799.2 1786.8,1798.0 1788.0,1796.8 C1789.1,1795.7 1790.3,1794.5 1791.5,1793.4 C1792.8,1792.2 1794.0,1791.1 1795.3,1790.0 C1796.5,1789.0 1797.8,1787.9 1799.1,1786.8 C1800.4,1785.8 1801.7,1784.8 1803.0,1783.8 C1804.3,1782.8 1805.7,1781.8 1807.0,1780.9 C1808.4,1779.9 1809.8,1779.0 1811.2,1778.1 C1812.6,1777.2 1814.0,1776.3 1815.4,1775.5 C1816.8,1774.6 1818.3,1773.8 1819.7,1773.0 C1821.2,1772.2 1822.7,1771.4 1824.1,1770.6 C1825.6,1769.9 1827.1,1769.1 1828.6,1768.4 C1830.1,1767.7 1831.6,1767.0 1833.1,1766.3 C1834.7,1765.6 1836.2,1765.0 1837.7,1764.3 C1839.3,1763.7 1840.8,1763.1 1842.4,1762.5 C1843.9,1761.9 1845.5,1761.3 1847.0,1760.7 C1848.6,1760.1 1850.2,1759.6 1851.8,1759.0 C1853.3,1758.5 1854.9,1758.0 1856.5,1757.5 C1858.1,1757.0 1859.7,1756.5 1861.3,1756.0 C1862.9,1755.5 1864.5,1755.1 1866.1,1754.6 C1867.7,1754.2 1869.4,1753.8 1871.0,1753.3 C1872.6,1752.9 1874.2,1752.5 1875.8,1752.1 C1877.5,1751.7 1879.1,1751.4 1880.7,1751.0 C1882.4,1750.6 1884.0,1750.3 1885.6,1749.9 C1887.3,1749.6 1888.9,1749.2 1890.5,1748.9 C1892.2,1748.6 1893.8,1748.2 1895.5,1747.9 C1897.1,1747.6 1898.7,1747.3 1900.4,1747.0 C1902.0,1746.7 1903.7,1746.4 1905.3,1746.1 C1907.0,1745.8 1908.6,1745.5 1910.3,1745.2 C1911.9,1744.9 1913.6,1744.7 1915.2,1744.4 C1916.9,1744.1 1918.5,1743.8 1920.2,1743.6 C1921.8,1743.3 1923.5,1743.1 1925.1,1742.8 C1926.8,1742.6 1928.5,1742.3 1930.1,1742.1 C1931.8,1741.9 1933.4,1741.6 1935.1,1741.4 C1936.7,1741.2 1938.4,1741.0 1940.1,1740.8 C1941.7,1740.6 1943.4,1740.3 1945.1,1740.1 C1946.7,1739.9 1948.4,1739.7 1950.0,1739.5 C1951.7,1739.3 1953.4,1739.1 1955.0,1738.9 C1956.7,1738.8 1958.4,1738.6 1960.0,1738.4 C1961.7,1738.2 1963.3,1738.0 1965.0,1737.8 C1966.7,1737.6 1968.3,1737.5 1970.0,1737.3 C1971.7,1737.1 1973.3,1736.9 1975.0,1736.8 C1976.7,1736.6 1978.3,1736.4 1980.0,1736.3 C1981.7,1736.1 1983.3,1735.9 1985.0,1735.8 C1986.7,1735.6 1988.3,1735.5 1990.0,1735.3 C1991.7,1735.2 1993.3,1735.0 1995.0,1734.9 C1996.7,1734.7 1998.3,1734.6 2000.0,1734.5 C2001.7,1734.3 2003.3,1734.2 2005.0,1734.1 C2006.7,1733.9 2008.3,1733.8 2010.0,1733.7 C2011.7,1733.6 2013.4,1733.4 2015.0,1733.3 C2016.7,1733.2 2018.4,1733.1 2020.0,1732.9 C2021.7,1732.8 2023.4,1732.7 2025.0,1732.6 C2026.7,1732.5 2028.4,1732.3 2030.1,1732.2 C2031.7,1732.1 2033.4,1732.0 2035.1,1731.9 C2036.7,1731.8 2038.4,1731.7 2040.1,1731.6 C2041.8,1731.4 2043.4,1731.3 2045.1,1731.2 C2046.8,1731.1 2048.4,1731.0 2050.1,1730.9 C2051.8,1730.8 2053.5,1730.7 2055.1,1730.6 C2056.8,1730.5 2058.5,1730.5 2060.1,1730.4 C2061.8,1730.3 2063.5,1730.2 2065.2,1730.1 C2066.8,1730.0 2068.5,1729.9 2070.2,1729.8 C2071.8,1729.7 2073.5,1729.6 2075.2,1729.5 C2076.9,1729.5 2078.5,1729.4 2080.2,1729.3 C2081.9,1729.2 2083.5,1729.1 2085.2,1729.0 C2086.9,1728.9 2088.6,1728.8 2090.2,1728.8 C2091.9,1728.7 2093.6,1728.6 2095.3,1728.5 C2096.9,1728.4 2098.6,1728.3 2100.3,1728.2 C2101.9,1728.1 2103.6,1728.1 2105.3,1728.0 C2107.0,1727.9 2109.5,1727.7 2110.3,1727.7"/>
<path d="M1690.0,2242.2 C1690.7,2242.2 1692.7,2242.2 1694.0,2242.2 C1695.4,2242.2 1696.7,2242.2 1698.1,2242.2 C1699.4,2242.2 1700.8,2242.2 1702.1,2242.2 C1703.5,2242.2 1704.8,2242.2 1706.2,2242.2 C1707.5,2242.2 1708.9,2242.2 1710.2,2242.2 C1711.6,2242.2 1712.9,2242.2 1714.3,2242.1 C1715.6,2242.1 1716.9,2242.0 1718.3,2242.0 C1719.6,2241.9 1721.0,2241.8 1722.3,2241.7 C1723.7,2241.6 1725.0,2241.5 1726.3,2241.3 C1727.7,2241.2 1729.0,2241.0 1730.3,2240.8 C1731.7,2240.6 1733.0,2240.3 1734.3,2240.1 C1735.7,2239.9 1737.0,2239.7 1738.3,2239.4 C1739.6,2239.1 1740.9,2238.8 1742.2,2238.5 C1743.5,2238.2 1744.8,2237.8 1746.1,2237.4 C1747.4,2237.0 1748.7,2236.6 1750.0,2236.1 C1751.2,2235.7 1752.5,2235.3 1753.8,2234.9 C1755.1,2234.4 1756.3,2234.0 1757.6,2233.5 C1758.9,2233.1 1760.1,2232.6 1761.4,2232.1 C1762.6,2231.6 1763.8,2231.0 1765.0,2230.4 C1766.2,2229.8 1767.4,2229.1 1768.5,2228.4 C1769.7,2227.7 1770.9,2227.0 1772.0,2226.3 C1773.1,2225.5 1774.2,2224.7 1775.2,2223.9 C1776.2,2223.0 1777.2,2222.2 1778.2,2221.2 C1779.1,2220.3 1780.0,2219.3 1780.9,2218.3 C1781.9,2217.3 1782.8,2216.3 1783.7,2215.3 C1784.6,2214.3 1785.4,2213.3 1786.3,2212.2 C1787.2,2211.2 1788.1,2210.2 1788.9,2209.2 C1789.8,2208.1 1790.7,2207.1 1791.5,2206.0 C1792.3,2205.0 1793.2,2203.9 1794.0,2202.9 C1794.8,2201.8 1795.6,2200.7 1796.4,2199.6 C1797.2,2198.5 1797.9,2197.4 1798.7,2196.3 C1799.4,2195.2 1800.2,2194.0 1800.9,2192.9 C1801.7,2191.8 1802.4,2190.7 1803.1,2189.5 C1803.9,2188.4 1804.6,2187.3 1805.3,2186.1 C1806.0,2185.0 1806.7,2183.8 1807.4,2182.7 C1808.1,2181.5 1808.8,2180.3 1809.4,2179.2 C1810.1,2178.0 1810.8,2176.9 1811.5,2175.7 C1812.2,2174.5 1812.9,2173.4 1813.5,2172.2 C1814.2,2171.1 1814.9,2169.9 1815.6,2168.7 C1816.3,2167.6 1817.0,2166.4 1817.6,2165.2 C1818.3,2164.1 1819.0,2162.9 1819.7,2161.8 C1820.4,2160.6 1821.1,2159.4 1821.7,2158.3 C1822.4,2157.1 1823.0,2156.1 1823.8,2154.8 C1824.6,2153.5 1825.6,2152.0 1826.5,2150.6 C1827.4,2149.2 1828.3,2147.8 1829.2,2146.4 C1830.0,2144.9 1830.9,2143.5 1831.8,2142.1 C1832.7,2140.7 1833.6,2139.3 1834.4,2137.9 C1835.3,2136.4 1836.2,2135.0 1837.0,2133.6 C1837.9,2132.2 1838.8,2130.7 1839.6,2129.3 C1840.5,2127.9 1841.4,2126.5 1842.2,2125.0 C1843.1,2123.6 1843.9,2122.2 1844.8,2120.8 C1845.6,2119.3 1846.5,2117.9 1847.3,2116.5 C1848.2,2115.0 1849.0,2113.6 1849.9,2112.1 C1850.7,2110.7 1851.6,2109.3 1852.4,2107.8 C1853.3,2106.4 1854.1,2105.0 1855.0,2103.5 C1855.8,2102.1 1856.7,2100.7 1857.5,2099.2 C1858.3,2097.8 1859.2,2096.3 1860.0,2094.9 C1860.9,2093.5 1861.7,2092.0 1862.5,2090.6 C1863.4,2089.1 1864.2,2087.7 1865.1,2086.3 C1865.9,2084.8 1866.7,2083.4 1867.6,2081.9 C1868.4,2080.5 1869.2,2079.1 1870.1,2077.6 C1870.9,2076.2 1871.8,2074.7 1872.6,2073.3 C1873.4,2071.8 1874.3,2070.4 1875.1,2069.0 C1876.0,2067.5 1876.8,2066.1 1877.6,2064.7 C1878.5,2063.2 1879.3,2061.8 1880.2,2060.3 C1881.0,2058.9 1881.9,2057.5 1882.7,2056.0 C1883.6,2054.6 1884.4,2053.2 1885.3,2051.8 C1886.2,2050.3 1887.0,2048.9 1887.9,2047.5 C1888.8,2046.1 1889.6,2044.6 1890.5,2043.2 C1891.4,2041.8 1892.3,2040.4 1893.1,2039.0 C1894.0,2037.5 1894.9,2036.1 1895.8,2034.7 C1896.7,2033.3 1897.6,2031.9 1898.5,2030.5 C1899.3,2029.1 1900.2,2027.7 1901.1,2026.3 C1902.0,2024.9 1902.9,2023.5 1903.8,2022.1 C1904.7,2020.7 1905.6,2019.3 1906.5,2017.9 C1907.4,2016.5 1908.4,2015.1 1909.3,2013.7 C1910.2,2012.3 1911.1,2010.9 1912.0,2009.5 C1912.9,2008.1 1913.8,2006.7 1914.7,2005.3 C1915.6,2003.9 1916.6,2002.5 1917.5,2001.1 C1918.4,1999.7 1919.3,1998.3 1920.2,1996.9 C1921.1,1995.5 1922.1,1994.1 1923.0,1992.8 C1923.9,1991.4 1924.8,1990.0 1925.8,1988.6 C1926.7,1987.2 1927.6,1985.8 1928.5,1984.4 C1929.5,1983.1 1930.4,1981.7 1931.3,1980.3 C1932.3,1978.9 1933.2,1977.5 1934.1,1976.1 C1935.1,1974.8 1936.0,1973.4 1936.9,1972.0 C1937.9,1970.6 1938.8,1969.3 1939.8,1967.9 C1940.7,1966.5 1941.6,1965.1 1942.6,1963.8 C1943.5,1962.4 1944.5,1961.0 1945.4,1959.7 C1946.4,1958.3 1947.4,1956.9 1948.3,1955.6 C1949.3,1954.2 1950.2,1952.8 1951.2,1951.5 C1952.2,1950.1 1953.1,1948.8 1954.1,1947.4 C1955.1,1946.0 1956.0,1944.7 1957.0,1943.3 C1958.0,1942.0 1959.0,1940.6 1959.9,1939.3 C1960.9,1937.9 1961.9,1936.6 1962.9,1935.2 C1963.9,1933.9 1964.9,1932.6 1965.8,1931.2 C1966.8,1929.9 1967.8,1928.5 1968.8,1927.2 C1969.8,1925.9 1970.8,1924.5 1971.8,1923.2 C1972.8,1921.8 1973.8,1920.5 1974.8,1919.2 C1975.8,1917.9 1976.8,1916.5 1977.8,1915.2 C1978.8,1913.9 1979.8,1912.5 1980.9,1911.2 C1981.9,1909.9 1982.9,1908.6 1983.9,1907.2 C1984.9,1905.9 1985.9,1904.6 1986.9,1903.3 C1988.0,1902.0 1989.0,1900.6 1990.0,1899.3 C1991.0,1898.0 1992.1,1896.7 1993.1,1895.4 C1994.1,1894.1 1995.1,1892.8 1996.2,1891.4 C1997.2,1890.1 1998.2,1888.8 1999.2,1887.5 C2000.3,1886.2 2001.3,1884.9 2002.3,1883.6 C2003.4,1882.3 2004.4,1881.0 2005.4,1879.7 C2006.5,1878.4 2007.5,1877.1 2008.6,1875.7 C2009.6,1874.4 2010.6,1873.1 2011.7,1871.8 C2012.7,1870.5 2013.8,1869.2 2014.8,1867.9 C2015.9,1866.6 2016.9,1865.3 2018.0,1864.0 C2019.0,1862.8 2020.1,1861.5 2021.1,1860.2 C2022.2,1858.9 2023.2,1857.6 2024.3,1856.3 C2025.3,1855.0 2026.4,1853.7 2027.4,1852.4 C2028.5,1851.1 2029.5,1849.8 2030.6,1848.5 C2031.7,1847.3 2032.7,1846.0 2033.8,1844.7 C2034.8,1843.4 2035.9,1842.1 2037.0,1840.8 C2038.0,1839.6 2039.1,1838.3 2040.2,1837.0 C2041.2,1835.7 2042.3,1834.4 2043.4,1833.2 C2044.4,1831.9 2045.5,1830.6 2046.6,1829.3 C2047.7,1828.1 2048.7,1826.8 2049.8,1825.5 C2050.9,1824.2 2052.0,1823.0 2053.1,1821.7 C2054.1,1820.4 2055.2,1819.2 2056.3,1817.9 C2057.4,1816.6 2058.5,1815.4 2059.5,1814.1 C2060.6,1812.8 2061.7,1811.6 2062.8,1810.3 C2063.9,1809.0 2065.0,1807.8 2066.1,1806.5 C2067.2,1805.3 2068.3,1804.0 2069.4,1802.7 C2070.5,1801.5 2071.6,1800.2 2072.7,1799.0 C2073.8,1797.7 2074.9,1796.5 2076.0,1795.3 C2077.1,1794.0 2078.2,1792.8 2079.3,1791.5 C2080.4,1790.3 2081.6,1789.0 2082.7,1787.8 C2083.8,1786.6 2084.9,1785.4 2086.0,1784.1 C2087.2,1782.9 2088.3,1781.7 2089.4,1780.4 C2090.6,1779.2 2091.7,1778.0 2092.8,1776.8 C2094.0,1775.6 2095.1,1774.3 2096.3,1773.1 C2097.4,1771.9 2098.5,1770.7 2099.7,1769.5 C2100.8,1768.3 2102.0,1767.1 2103.1,1765.9 C2104.3,1764.6 2105.4,1763.4 2106.6,1762.2 C2107.7,1761.0 2109.4,1759.2 2110.0,1758.6"/>
</g>
<rect x="1398.00" y="1696.60" width="5.20" height="544.10" fill="#000" />
<rect x="1398.00" y="1696.60" width="735.00" height="544.10" fill="none" stroke="#000" stroke-width="8.0"/>
<rect x="1398.00" y="1753.40" width="10.20" height="8.00" fill="#000" />
<rect x="1398.00" y="1813.80" width="10.20" height="8.00" fill="#000" />
<rect x="1398.00" y="1874.20" width="10.20" height="8.00" fill="#000" />
<rect x="1398.00" y="1934.60" width="10.20" height="8.00" fill="#000" />
<rect x="1398.00" y="1995.00" width="10.20" height="8.00" fill="#000" />
<rect x="1398.00" y="2055.40" width="10.20" height="8.00" fill="#000" />
<rect x="1398.00" y="2115.80" width="10.20" height="8.00" fill="#000" />
<rect x="1398.00" y="2176.20" width="10.20" height="8.00" fill="#000" />
<rect x="1398.00" y="1730.50" width="6.40" height="5.00" fill="#000" />
<rect x="1398.00" y="1740.20" width="6.40" height="5.00" fill="#000" />
<rect x="1398.00" y="1790.90" width="6.40" height="5.00" fill="#000" />
<rect x="1398.00" y="1800.60" width="6.40" height="5.00" fill="#000" />
<rect x="1398.00" y="1851.30" width="6.40" height="5.00" fill="#000" />
<rect x="1398.00" y="1861.00" width="6.40" height="5.00" fill="#000" />
<rect x="1398.00" y="1911.70" width="6.40" height="5.00" fill="#000" />
<rect x="1398.00" y="1921.40" width="6.40" height="5.00" fill="#000" />
<rect x="1398.00" y="1972.10" width="6.40" height="5.00" fill="#000" />
<rect x="1398.00" y="1981.80" width="6.40" height="5.00" fill="#000" />
<rect x="1398.00" y="2032.50" width="6.40" height="5.00" fill="#000" />
<rect x="1398.00" y="2042.20" width="6.40" height="5.00" fill="#000" />
<rect x="1398.00" y="2092.90" width="6.40" height="5.00" fill="#000" />
<rect x="1398.00" y="2102.60" width="6.40" height="5.00" fill="#000" />
<rect x="1398.00" y="2153.30" width="6.40" height="5.00" fill="#000" />
<rect x="1398.00" y="2163.00" width="6.40" height="5.00" fill="#000" />
<rect x="1398.00" y="2213.70" width="6.40" height="5.00" fill="#000" />
<rect x="1398.00" y="2223.40" width="6.40" height="5.00" fill="#000" />
<rect x="2121.00" y="1770.00" width="12.00" height="8.00" fill="#000" />
<rect x="2121.00" y="1925.50" width="12.00" height="8.00" fill="#000" />
<rect x="2121.00" y="2081.00" width="12.00" height="8.00" fill="#000" />
<rect x="2126.80" y="1847.75" width="6.20" height="8.00" fill="#000" />
<rect x="2126.80" y="2003.25" width="6.20" height="8.00" fill="#000" />
<rect x="2126.80" y="2158.75" width="6.20" height="8.00" fill="#000" />
<rect x="1416.10" y="2230.20" width="7.80" height="10.50" fill="#000" />
<rect x="1531.10" y="2230.20" width="7.80" height="10.50" fill="#000" />
<rect x="1646.10" y="2230.20" width="7.80" height="10.50" fill="#000" />
<rect x="1761.10" y="2230.20" width="7.80" height="10.50" fill="#000" />
<rect x="1876.10" y="2230.20" width="7.80" height="10.50" fill="#000" />
<rect x="1991.10" y="2230.20" width="7.80" height="10.50" fill="#000" />
<rect x="2106.10" y="2230.20" width="7.80" height="10.50" fill="#000" />
<rect x="1473.70" y="2235.60" width="7.60" height="5.10" fill="#000" />
<rect x="1588.70" y="2235.60" width="7.60" height="5.10" fill="#000" />
<rect x="1703.70" y="2235.60" width="7.60" height="5.10" fill="#000" />
<rect x="1818.70" y="2235.60" width="7.60" height="5.10" fill="#000" />
<rect x="1933.70" y="2235.60" width="7.60" height="5.10" fill="#000" />
<rect x="2048.70" y="2235.60" width="7.60" height="5.10" fill="#000" />
<text transform="translate(1285.45 1780.40) scale(1 1.045)" font-size="60.50" fill="#000" >10</text>
<text transform="translate(1353.85 1746.00) scale(1 1.045)" font-size="33.50" fill="#000" stroke="#000" stroke-width="0.7">-6</text>
<text transform="translate(1285.45 1901.20) scale(1 1.045)" font-size="60.50" fill="#000" >10</text>
<text transform="translate(1353.85 1866.80) scale(1 1.045)" font-size="33.50" fill="#000" stroke="#000" stroke-width="0.7">-8</text>
<text transform="translate(1267.34 2022.00) scale(1 1.045)" font-size="60.50" fill="#000" >10</text>
<text transform="translate(1335.74 1987.60) scale(1 1.045)" font-size="33.50" fill="#000" stroke="#000" stroke-width="0.7">-10</text>
<text transform="translate(1266.82 2142.80) scale(1 1.045)" font-size="60.50" fill="#000" >10</text>
<text transform="translate(1335.22 2108.40) scale(1 1.045)" font-size="33.50" fill="#000" stroke="#000" stroke-width="0.7">-12</text>
<text transform="translate(1265.77 2263.60) scale(1 1.045)" font-size="60.50" fill="#000" >10</text>
<text transform="translate(1334.17 2229.20) scale(1 1.045)" font-size="33.50" fill="#000" stroke="#000" stroke-width="0.7">-14</text>
<text transform="translate(2145.45 1791.50) scale(1 1.045)" font-size="60.50" fill="#000" >3</text>
<text transform="translate(2144.51 1947.00) scale(1 1.045)" font-size="60.50" fill="#000" >2</text>
<text transform="translate(2146.62 2102.50) scale(1 1.045)" font-size="60.50" fill="#000" >1</text>
<text transform="translate(2144.51 2258.00) scale(1 1.045)" font-size="60.50" fill="#000" >0</text>
<text transform="translate(1392.91 2300.30) scale(1 1.045)" font-size="60.50" fill="#000" >-3</text>
<text transform="translate(1507.91 2300.30) scale(1 1.045)" font-size="60.50" fill="#000" >-2</text>
<text transform="translate(1622.91 2300.30) scale(1 1.045)" font-size="60.50" fill="#000" >-1</text>
<text transform="translate(1748.46 2300.30) scale(1 1.045)" font-size="60.50" fill="#000" >0</text>
<text transform="translate(1862.04 2300.30) scale(1 1.045)" font-size="60.50" fill="#000" >1</text>
<text transform="translate(1977.98 2300.30) scale(1 1.045)" font-size="60.50" fill="#000" >2</text>
<text transform="translate(2093.46 2300.30) scale(1 1.045)" font-size="60.50" fill="#000" >3</text>
<text transform="translate(1678.80 2367.40) scale(1 1.045)" font-size="55.14" fill="#000"><tspan>V</tspan><tspan dy="14.34" font-size="36.39" font-weight="normal" stroke="#000" stroke-width="0.9">GS</tspan><tspan dy="-14.34"> (V)</tspan></text>
<text transform="translate(1232.00 2049.50) rotate(-90) scale(1 1.045)" x="-3.45" y="0" font-size="55.21" fill="#000"><tspan>I</tspan><tspan dy="14.91" font-size="36.44" font-weight="normal" stroke="#000" stroke-width="0.9">DS</tspan><tspan dy="-14.91"> (A)</tspan></text>
<text transform="translate(2251.80 2067.00) rotate(-90) scale(1 1.045)" x="-3.48" y="0" font-size="55.72" fill="#000"><tspan>I</tspan><tspan dy="15.04" font-size="36.77" font-weight="normal" stroke="#000" stroke-width="0.9">DS</tspan><tspan dy="-15.04"> (µA)</tspan></text>
<text transform="translate(1430.78 1747.60) scale(1 1.045)" font-size="56.33" fill="#000"><tspan>m-MoS</tspan><tspan dy="13.52" font-size="37.18">2</tspan><tspan dy="-13.52"> TFT</tspan></text>
<text transform="translate(1432.70 1814.70) scale(1 1.045)" font-size="54.27" fill="#000"><tspan>V</tspan><tspan dy="11.94" font-size="35.82" font-weight="normal" stroke="#000" stroke-width="0.9">DS</tspan><tspan dy="-11.94"> = 0.1 V</tspan></text>
<circle cx="1699.2" cy="1957.4" r="54.3" fill="none" stroke="#000" stroke-width="8.4" stroke-dasharray="26.4 7.72" stroke-dashoffset="12"/>
<circle cx="1867.6" cy="2090.9" r="54.3" fill="none" stroke="#000" stroke-width="8.4" stroke-dasharray="26.4 7.72" stroke-dashoffset="-6"/>
<rect x="1577.80" y="1962.40" width="64.20" height="8.80" fill="#000" />
<polygon points="1544.6,1966.8 1578.8,1949.8 1578.8,1983.8" fill="#000"/>
<rect x="1922.00" y="2077.90" width="69.90" height="8.80" fill="#000" />
<polygon points="2025.1,2082.3 1990.9,2064.9 1990.9,2099.7" fill="#000"/>
</g>
</svg>
</body>
</html>
